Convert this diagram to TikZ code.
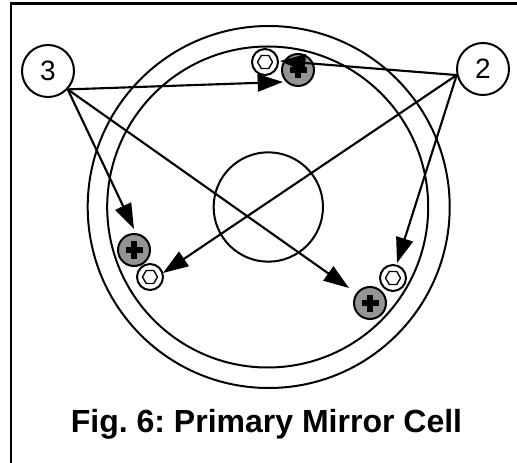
\documentclass[tikz,border=0pt]{standalone}
\usepackage{fontspec}
\setmainfont{Liberation Sans}
\usetikzlibrary{arrows.meta}
\tikzset{
  x=0.75pt,y=-0.75pt,
  ring/.style={draw=black,line width=1.5pt,circle,inner sep=0pt,fill=none},
  lab/.style={draw=black,line width=1.5pt,circle,inner sep=0pt,fill=white,minimum size=39pt,font=\fontsize{21}{23}\selectfont},
  ptr/.style={line width=1.6pt,-{Triangle[length=19pt,width=13pt]}},
  screw/.pic={
    \fill[black!42] (0,0) circle (16);
    \draw[line width=1.5pt] (0,0) circle (16);
    \fill (-8.5,-2.6) rectangle (8.5,2.6);
    \fill (-2.6,-8.5) rectangle (2.6,8.5);
  },
  hexb/.pic={
    \draw[line width=1.5pt,fill=white] (0,0) circle (13);
    \draw[line width=1pt] (-7.5,0)--(-3.8,-6.5)--(3.8,-6.5)--(7.5,0)--(3.8,6.5)--(-3.8,6.5)--cycle;
  }
}
\begin{document}
\begin{tikzpicture}
\useasboundingbox (0,0) rectangle (517,463);
\fill[white] (0,0) rectangle (517,463);
\draw[line width=2pt] (11,463) -- (11,3.3) -- (517,3.3);
\node[ring,minimum size=271.5pt] (outer) at (268.7,207) {};
\node[ring,minimum size=240.75pt] (inner) at (267.7,207) {};
\node[ring,minimum size=82pt] (hole) at (268.3,207) {};
\pic at (298,70) {screw};
\pic at (265,62) {hexb};
\pic at (134,250) {screw};
\pic at (150,277) {hexb};
\pic at (370,303) {screw};
\pic at (393,278) {hexb};
\node[lab] (n3) at (48,71) {3};
\node[lab] (n2) at (483,69) {2};
\coordinate (t1) at (283,82);
\coordinate (t2) at (134,229);
\coordinate (t3) at (349,288);
\coordinate (t4) at (280,61);
\coordinate (t5) at (163,273);
\coordinate (t6) at (397,263);
\draw[ptr] (n3.-43) -- (t1);
\draw[ptr] (n3.-43) -- (t2);
\draw[ptr] (n3.-43) -- (t3);
\draw[ptr] (n2.193) -- (t4);
\draw[ptr] (n2.193) -- (t5);
\draw[ptr] (n2.193) -- (t6);
\node[anchor=base,font=\frenchspacing\bfseries\fontsize{24}{26}\selectfont,inner sep=0pt] (cap) at (266.5,432) {Fig. 6: Primary Mirror Cell};
\end{tikzpicture}
\end{document}
